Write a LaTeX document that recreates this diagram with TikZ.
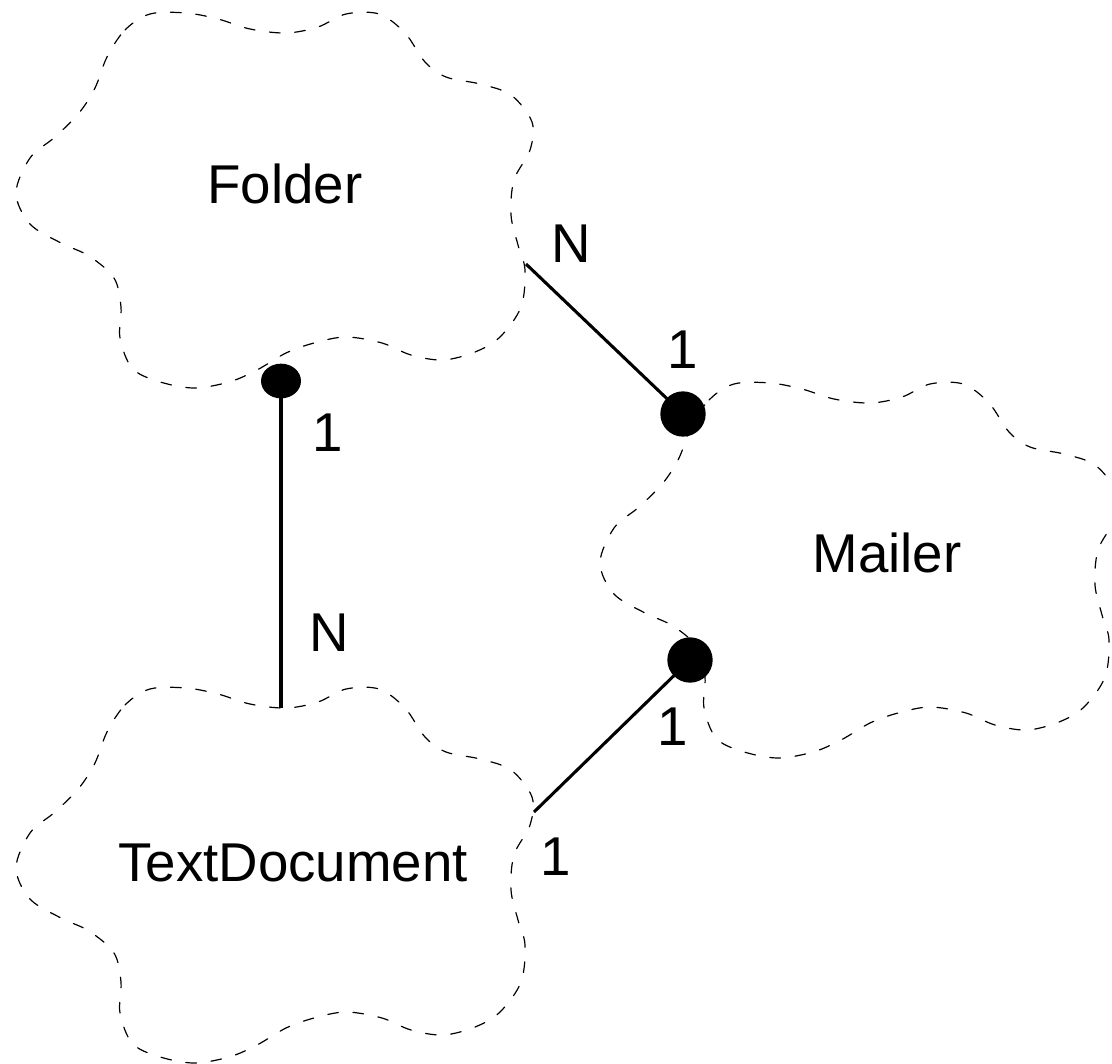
\documentclass[tikz,border=0pt]{standalone}
\usepackage{fontspec}
\setmainfont{Liberation Sans}
\usetikzlibrary{shapes.geometric}

\tikzset{
  cloudline/.style={line width=0.9pt, dash pattern=on 8pt off 11pt, line cap=round},
  link/.style={line width=2.3pt},
  lbl/.style={font=\fontsize{41}{41}\selectfont, inner sep=0pt},
  mult/.style={font=\fontsize{41}{41}\selectfont, inner sep=0pt},
  dotsmall/.style={ellipse, fill=black, inner sep=0pt, minimum width=30pt, minimum height=26pt},
  dotbig/.style={circle, fill=black, inner sep=0pt, minimum size=34pt},
  % Booch class cloud, outline given in pixel-like units
  classcloud/.pic={
    \draw[cloudline] plot[smooth cycle, tension=0.55] coordinates {
      (107,57) (125,30) (150,14) (186,13) (218,19) (250,29) (286,33)
      (318,27) (346,14) (379,14) (405,33) (425,62) (446,77) (480,84)
      (511,95) (532,122) (530,150) (514,180) (511,215) (518,245)
      (525,270) (521,307) (500,337) (475,352) (443,360) (411,355)
      (382,343) (346,337) (314,343) (286,353) (257,370) (229,382)
      (193,388) (157,381) (132,368) (120,338) (121,307) (114,278)
      (89,256) (61,243) (30,224) (16,193) (30,158) (55,137) (79,113)
      (95,88)};
  }
}

\begin{document}
\begin{tikzpicture}[x=0.75pt, y=-0.75pt]
\useasboundingbox (0,0) rectangle (1112,1063);

% class clouds
\pic at (0,0) {classcloud};
\pic at (584,370) {classcloud};
\pic at (0,675) {classcloud};

% class names
\node[lbl] (folder) at (285,184) {Folder};
\node[lbl] (mailer) at (887,553) {Mailer};
\node[lbl] (textdoc) at (293,863) {TextDocument};

% has-relationship dots
\node[dotsmall] (dotF) at (281,381) {};
\node[dotbig] (dotMa) at (683,414) {};
\node[dotbig] (dotMb) at (690,660) {};

% connector end points on cloud outlines
\coordinate (folderR) at (526,264);
\coordinate (docTop) at (281,708);
\coordinate (docR) at (534,812);

% connectors
\draw[link] (dotF.center) -- (docTop);
\draw[link] (folderR) -- (dotMa.center);
\draw[link] (dotMb.center) -- (docR);

% multiplicities
\node[mult] (mFN) at (571,244) {N};
\node[mult] (mMa) at (683,350) {1};
\node[mult] (mF1) at (328,433) {1};
\node[mult] (mDN) at (329,633) {N};
\node[mult] (mMb) at (673,727) {1};
\node[mult] (mD1) at (556,857) {1};
\end{tikzpicture}
\end{document}
